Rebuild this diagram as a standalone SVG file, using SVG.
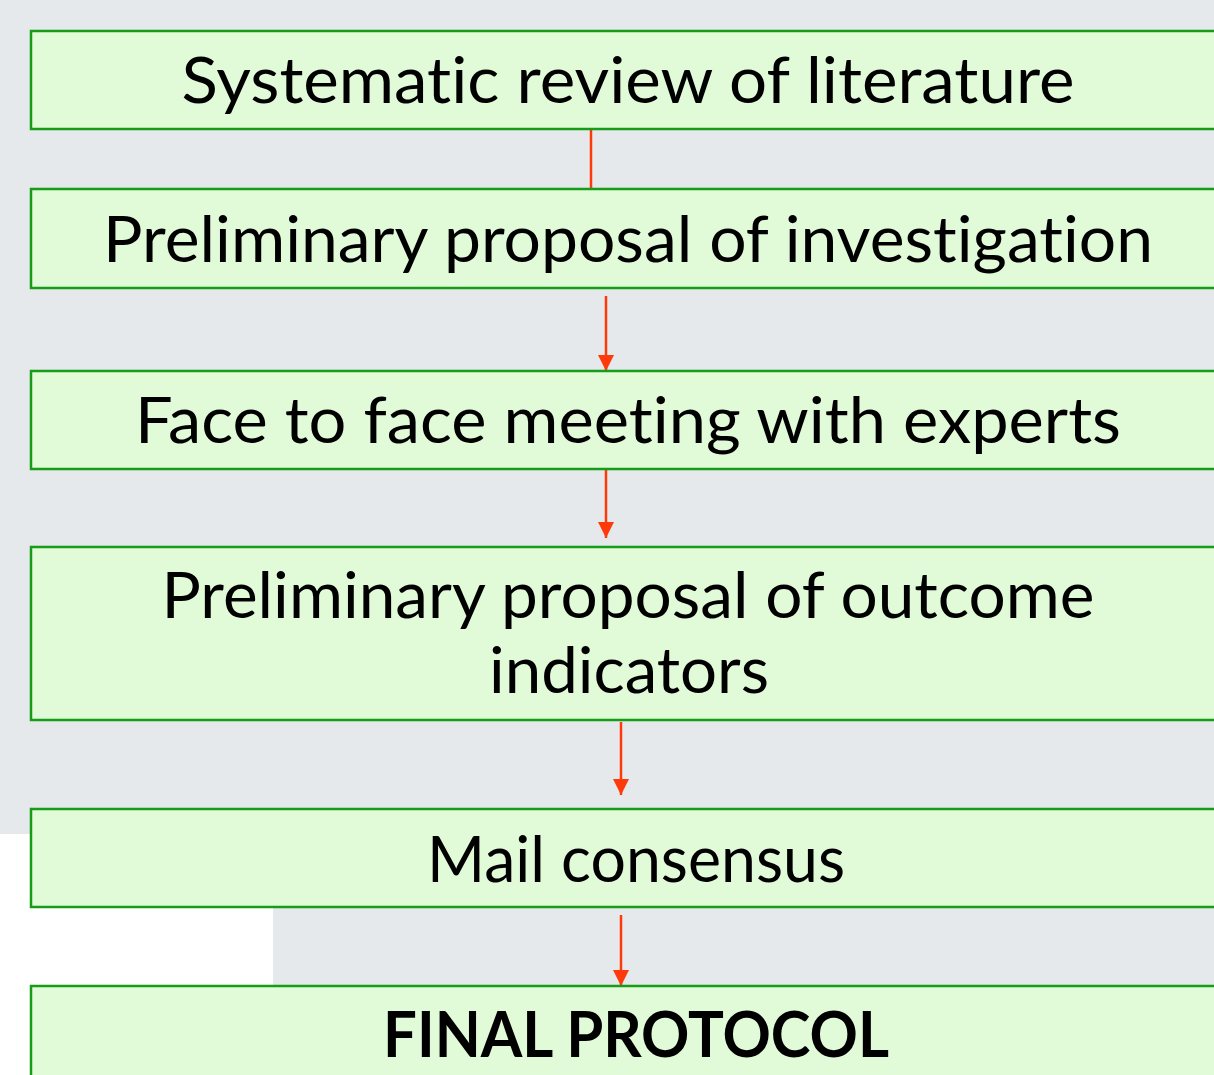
<svg xmlns="http://www.w3.org/2000/svg" width="1214" height="1075" viewBox="0 0 1214 1075">
<style>
.box{fill:#e1fbd9;stroke:#169c16;stroke-width:2.5}
.t{font-family:Lato,"Open Sans","DejaVu Sans",sans-serif;font-size:63px;fill:#000;text-anchor:middle;font-variant-ligatures:none;font-feature-settings:"liga" 0,"clig" 0}
.b{font-weight:bold}
.c{stroke:#ff3a0a;stroke-width:2.5;fill:none}
</style>
<defs>
<marker id="ah" markerUnits="userSpaceOnUse" markerWidth="16" markerHeight="16" viewBox="0 0 16 16" refX="16" refY="8" orient="auto">
<path d="M0,0 L16,8 L0,16 Z" fill="#ff3a0a"/>
</marker>
</defs>
<rect x="0" y="0" width="1214" height="834" fill="#e5e9ec"/>
<rect x="273" y="834" width="941" height="241" fill="#e5e9ec"/>
<rect x="0" y="834" width="273" height="241" fill="#ffffff"/>
<g id="connectors">
<line class="c" x1="591" y1="130" x2="591" y2="189"/>
<line class="c" x1="606" y1="296" x2="606" y2="371" marker-end="url(#ah)"/>
<line class="c" x1="606" y1="470" x2="606" y2="538" marker-end="url(#ah)"/>
<line class="c" x1="621" y1="722" x2="621" y2="795" marker-end="url(#ah)"/>
<line class="c" x1="621" y1="915" x2="621" y2="986" marker-end="url(#ah)"/>
</g>
<g id="n1"><rect class="box" x="31" y="31" width="1200" height="98"/><text class="t" x="628" y="103" textLength="893" lengthAdjust="spacingAndGlyphs">Systematic review of literature</text></g>
<g id="n2"><rect class="box" x="31" y="189" width="1200" height="99"/><text class="t" x="628" y="262" textLength="1050" lengthAdjust="spacingAndGlyphs">Preliminary proposal of investigation</text></g>
<g id="n3"><rect class="box" x="31" y="371" width="1200" height="98"/><text class="t" x="628" y="443" textLength="986" lengthAdjust="spacingAndGlyphs">Face to face meeting with experts</text></g>
<g id="n4"><rect class="box" x="31" y="547" width="1200" height="173"/><text class="t" x="628" y="618" textLength="933" lengthAdjust="spacingAndGlyphs">Preliminary proposal of outcome</text><text class="t" x="629" y="693" textLength="280" lengthAdjust="spacingAndGlyphs">indicators</text></g>
<g id="n5"><rect class="box" x="31" y="809" width="1200" height="98"/><text class="t" x="636" y="882" textLength="418" lengthAdjust="spacingAndGlyphs">Mail consensus</text></g>
<g id="n6"><rect class="box" x="31" y="986" width="1200" height="120"/><text class="t b" x="636" y="1057" textLength="506" lengthAdjust="spacingAndGlyphs">FINAL PROTOCOL</text></g>
</svg>
